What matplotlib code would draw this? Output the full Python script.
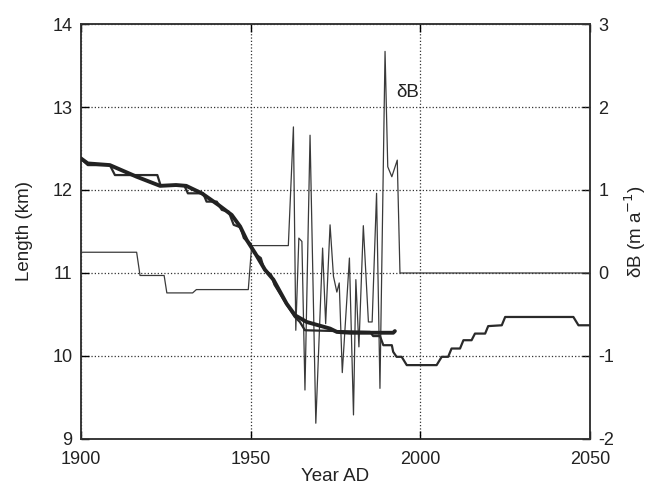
import matplotlib
matplotlib.use("Agg")
import matplotlib.pyplot as plt

plt.rcParams['font.family'] = ['Liberation Sans', 'DejaVu Sans']
plt.rcParams['axes.unicode_minus'] = False

# modelled length (thick line)
model_year = [1900, 1902, 1908.5, 1916.4, 1923.3, 1928, 1931, 1935.6, 1940.5, 1944.4,
              1946.9, 1948.8, 1951.3, 1954.2, 1956.7, 1960.6, 1963.1, 1966.5, 1973.4,
              1975.4, 1979.3, 1992.0, 1992.5]
model_km = [12.38, 12.32, 12.30, 12.16, 12.05, 12.06, 12.05, 11.96, 11.82, 11.70,
            11.56, 11.40, 11.24, 11.04, 10.92, 10.63, 10.49, 10.41, 10.33,
            10.29, 10.28, 10.28, 10.30]

# observed / extended length (medium stepped line)
obs_year = [1900, 1902, 1908.5, 1910, 1922.5, 1923.5, 1930.5, 1931.5, 1936, 1937,
            1940, 1941.5, 1943.5, 1945, 1947, 1948, 1950, 1951, 1953, 1954,
            1956, 1957, 1960, 1963, 1964.5, 1966, 1985.2, 1986.1, 1988.1, 1989.1,
            1991.6, 1992.0, 1993.0, 1994.5, 1996.0, 2004.8, 2006.3, 2008.2, 2009.2,
            2011.7, 2012.7, 2015.1, 2016.1, 2019.1, 2020.0, 2024.0, 2025.0, 2045.1,
            2046.6, 2050]
obs_km = [12.38, 12.30, 12.30, 12.18, 12.18, 12.05, 12.05, 11.96, 11.96, 11.86,
          11.86, 11.76, 11.74, 11.58, 11.55, 11.42, 11.35, 11.24, 11.18, 11.04,
          10.98, 10.86, 10.66, 10.47, 10.41, 10.31, 10.29, 10.24, 10.24, 10.13,
          10.13, 10.05, 9.99, 9.99, 9.89, 9.89, 9.99, 9.99, 10.09,
          10.09, 10.19, 10.19, 10.27, 10.27, 10.36, 10.37, 10.47, 10.47,
          10.37, 10.37]

# mass-balance perturbation dB (thin line)
db_year = [1900, 1916.4, 1917.4, 1924.5, 1925.3, 1932.9, 1934.0, 1949.3, 1950.3,
           1961.1, 1962.6, 1963.3, 1964.2, 1965.1, 1966.0, 1967.5, 1969.2, 1971.2,
           1972.1, 1973.4, 1974.4, 1975.4, 1976.1, 1977.0, 1979.1, 1980.3, 1981.0,
           1981.9, 1983.2, 1984.7, 1985.8, 1987.1, 1988.1, 1989.6, 1990.4, 1991.6,
           1993.2, 1994.0, 2050]
db_val = [0.25, 0.25, -0.03, -0.03, -0.24, -0.24, -0.20, -0.20, 0.33,
          0.33, 1.76, -0.69, 0.42, 0.38, -1.41, 1.66, -1.81, 0.30,
          -0.61, 0.58, -0.04, -0.23, -0.12, -1.20, 0.18, -1.71, -0.08,
          -0.89, 0.57, -0.59, -0.59, 0.96, -1.39, 2.67, 1.28, 1.16,
          1.36, 0.0, 0.0]

fig = plt.figure(figsize=(6.5, 4.87), dpi=100)
ax = fig.add_axes([0.1246, 0.0986, 0.7831, 0.8521])
ax2 = ax.twinx()

ax2.plot(db_year, db_val, color='#3a3a3a', lw=0.9, zorder=2)
ax.plot(obs_year, obs_km, color='#2a2a2a', lw=1.6, zorder=3)
ax.plot(model_year, model_km, color='#222222', lw=2.8, zorder=4,
        solid_capstyle='round')

ax.set_xlim(1900, 2050)
ax.set_ylim(9, 14)
ax2.set_ylim(-2, 3)
ax.set_xticks([1900, 1950, 2000, 2050])
ax.set_yticks([9, 10, 11, 12, 13, 14])
ax2.set_yticks([-2, -1, 0, 1, 2, 3])

ax.grid(True, ls=':', color='#333333', lw=0.9)
ax.set_zorder(ax2.get_zorder() + 1)
ax.patch.set_visible(False)

for a in (ax, ax2):
    a.tick_params(direction='in', length=6, width=1, labelsize=13, top=True,
                  pad=6, labelcolor='#222222')
    for s in a.spines.values():
        s.set_linewidth(1.1)
        s.set_color('#333333')
ax.tick_params(right=False)
ax.tick_params(axis='x', pad=9)
ax2.tick_params(left=False)

ax.set_xlabel('Year AD', fontsize=13.5, labelpad=0, color='#222222')
ax.set_ylabel('Length (km)', fontsize=13.5, labelpad=14, color='#222222')
ax2.set_ylabel(r'δB (m a$^{-1}$)', fontsize=13.5, labelpad=6, color='#222222')

# label sits on the 2000 grid line with a white patch behind it
ax.text(1999.6, 13.17, 'δB', fontsize=13.5, ha='right', va='center',
        color='#222222', zorder=5,
        bbox=dict(facecolor='white', edgecolor='none', pad=1))

fig.savefig('out.png', dpi=100)
